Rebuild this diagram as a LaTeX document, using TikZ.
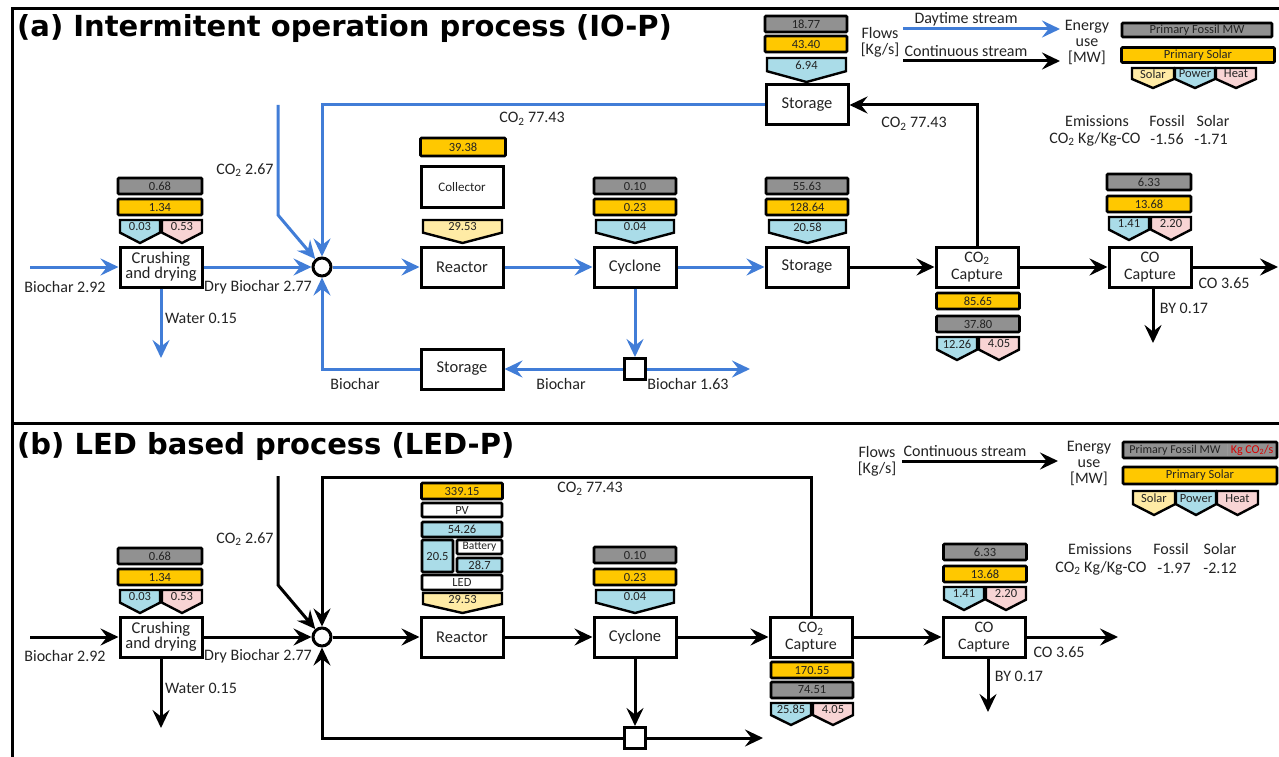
\documentclass[tikz,border=0pt]{standalone}
\usepackage{fontspec}
\setmainfont{Carlito}
\newfontfamily\titlef{DejaVu Sans}
\usetikzlibrary{arrows.meta}
\definecolor{fgray}{RGB}{145,145,145}
\definecolor{fyellow}{RGB}{255,200,0}
\definecolor{fblue}{RGB}{170,220,232}
\definecolor{fpink}{RGB}{248,212,212}
\definecolor{fsolar}{RGB}{255,235,165}
\definecolor{flowblue}{RGB}{65,125,215}
\definecolor{txt}{RGB}{35,35,35}
\newcommand{\fsz}[2]{\fontsize{#1}{#2}\selectfont}
\newcommand{\pentag}[6]{%
  \filldraw[fill=#5, line width=2.4pt, line join=miter] (#1,#3) -- (#2,#3) -- (#2,{#3+0.55*(#4-#3)}) -- ({(#1+#2)/2},#4) -- (#1,{#3+0.55*(#4-#3)}) -- cycle;
  \node[font=\fsz{12.5}{13}, text=txt, inner sep=0pt] at ({(#1+#2)/2},{#3+0.3*(#4-#3)}) {#6};}
\tikzset{
  box/.style={draw, line width=3pt, fill=white, minimum width=82pt, minimum height=40pt, inner sep=0pt, align=center, font=\fsz{16.5}{15}, text=txt},
  capbox/.style={box, font=\fsz{16}{17}},
  bar/.style={draw, line width=2.6pt, rounded corners=1pt, minimum height=16pt, inner sep=0pt, font=\fsz{12.5}{13}, text=txt},
  lbl/.style={font=\fsz{16}{16}, inner sep=0pt, text=txt},
  flow/.style={line width=3pt, -{Stealth[length=18pt,width=17pt,inset=6.5pt]}},
  bflow/.style={flow, draw=flowblue},
  kflow/.style={flow, draw=black},
  mix/.style={circle, draw, line width=3pt, fill=white, minimum size=18pt, inner sep=0pt},
  sq/.style={draw, line width=3pt, fill=white, minimum size=21pt, inner sep=0pt},
  ttl/.style={font=\titlef\bfseries\fsz{29}{32}, inner sep=0pt, anchor=west}
}
\begin{document}
\begin{tikzpicture}[x=1pt, y=-1pt]
\useasboundingbox (0,0) rectangle (1279,757);
% frame
\draw[line width=3pt] (1279,9) -- (12,9) -- (12,757);
\draw[line width=3pt] (12,423) -- (1279,423);
\node[ttl] (ta) at (17,29) {(a) Intermitent operation process (IO-P)};
\node[ttl] (tb) at (17,446) {(b) LED based process (LED-P)};

% ================= PANEL (a) =================
\node[box] (crA) at (161,267) {Crushing\\and drying};
\node[mix] (mixA) at (322,267) {};
\node[box] (reacA) at (462,267) {Reactor};
\node[box] (cycA) at (635,267) {Cyclone};
\node[box] (storMA) at (807,267) {Storage};
\node[capbox] (co2A) at (977,267) {CO\textsubscript{2}\\Capture};
\node[capbox] (coA) at (1150,267) {CO\\Capture};
\node[box] (storTA) at (807,105) {Storage};
\node[box] (storBA) at (462,369) {Storage};
\node[sq] (sqA) at (635,369) {};
\node[box, minimum height=41pt, font=\fsz{13}{13}] (collA) at (462,187) {Collector};

\coordinate (inA) at (30,267);
\coordinate (waterA) at (161,358);
\coordinate (co2inA) at (278,105);
\coordinate (outA) at (1278,267);
\coordinate (byA) at (1153,343);
\coordinate (sqoutA) at (750,369);

\draw[bflow] (inA) -- (crA);
\draw[bflow] (crA) -- (mixA);
\draw[bflow] (crA.south) -- (waterA);
\draw[bflow] (co2inA) -- ++(0,110) -- (mixA);
\draw[bflow] (storTA.west) -- (storTA.west -| mixA) -- (mixA);
\draw[bflow] (storBA.west) -- (storBA.west -| mixA) -- (mixA);
\draw[bflow] (mixA) -- (reacA);
\draw[bflow] (reacA) -- (cycA);
\draw[bflow] (cycA) -- (storMA);
\draw[bflow] (cycA) -- (sqA);
\draw[bflow] (sqA) -- (storBA);
\draw[bflow] (sqA) -- (sqoutA);
\draw[kflow] (storMA) -- (co2A);
\draw[kflow] (co2A) -- (coA);
\draw[kflow] (coA) -- (outA);
\draw[kflow] (coA.south -| byA) -- (byA);
\draw[kflow] (co2A.north) -- (co2A.north |- storTA.east) -- (storTA.east);

\node[lbl] at (65,287) {Biochar 2.92};
\node[lbl] at (258,287) {Dry Biochar 2.77};
\node[lbl] at (201,318) {Water 0.15};
\node[lbl] at (245,170) {CO\textsubscript{2} 2.67};
\node[lbl] at (532,119) {CO\textsubscript{2} 77.43};
\node[lbl] at (914,124) {CO\textsubscript{2} 77.43};
\node[lbl] at (355,384) {Biochar};
\node[lbl] at (561,384) {Biochar};
\node[lbl] at (688,384) {Biochar 1.63};
\node[lbl] at (1224,283) {CO 3.65};
\node[lbl] at (1184,308) {BY 0.17};

% energy bars (a)
\node[bar, fill=fgray, minimum width=84pt] at (160,186) {0.68};
\node[bar, fill=fyellow, minimum width=84pt] at (160,207) {1.34};
\pentag{120}{160}{220}{243}{fblue}{0.03}
\pentag{162}{202}{220}{243}{fpink}{0.53}

\node[bar, fill=fyellow, minimum width=85pt, minimum height=18pt] at (463,147) {39.38};
\pentag{423}{502}{220}{243}{fsolar}{29.53}

\node[bar, fill=fgray, minimum width=82pt] at (635,186) {0.10};
\node[bar, fill=fyellow, minimum width=82pt] at (635,207) {0.23};
\pentag{596}{674}{220}{243}{fblue}{0.04}

\node[bar, fill=fgray, minimum width=82pt] at (807,186) {55.63};
\node[bar, fill=fyellow, minimum width=82pt] at (807,207) {128.64};
\pentag{769}{846}{220}{243}{fblue}{20.58}

\node[bar, fill=fgray, minimum width=82pt] at (806,24) {18.77};
\node[bar, fill=fyellow, minimum width=82pt] at (806,44) {43.40};
\pentag{767}{846}{58}{82}{fblue}{6.94}

\node[bar, fill=fyellow, minimum width=83pt] at (978,301) {85.65};
\node[bar, fill=fgray, minimum width=83pt] at (978,324) {37.80};
\pentag{937}{977}{337}{360}{fblue}{12.26}
\pentag{979}{1019}{337}{360}{fpink}{4.05}

\node[bar, fill=fgray, minimum width=84pt] at (1149,182) {6.33};
\node[bar, fill=fyellow, minimum width=84pt] at (1149,204) {13.68};
\pentag{1109}{1149}{217}{240}{fblue}{1.41}
\pentag{1151}{1191}{217}{240}{fpink}{2.20}

% legend (a)
\node[lbl, align=center] at (880,42) {Flows\\{[Kg/s]}};
\coordinate (dayS) at (903,29);
\coordinate (dayE) at (1060,29);
\coordinate (conS) at (903,61);
\coordinate (conE) at (1060,61);
\draw[bflow] (dayS) -- (dayE);
\draw[kflow] (conS) -- (conE);
\node[lbl] at (966,19) {Daytime stream};
\node[lbl] at (966,51) {Continuous stream};
\node[lbl, align=center] at (1087,42) {Energy\\use\\{[MW]}};
\node[bar, fill=fgray, minimum width=150pt, minimum height=14pt] at (1197,30) {Primary Fossil MW};
\node[bar, fill=fyellow, minimum width=153pt, minimum height=15pt] at (1198,55) {Primary Solar};
\pentag{1132}{1174}{68}{88}{fsolar}{Solar}
\pentag{1175}{1215}{68}{88}{fblue}{Power}
\pentag{1216}{1256}{68}{88}{fpink}{Heat}
\node[lbl] at (1097,121) {Emissions};
\node[lbl] at (1167,121) {Fossil};
\node[lbl] at (1213,121) {Solar};
\node[lbl] at (1095,139) {CO\textsubscript{2} Kg/Kg-CO};
\node[lbl] at (1167,139) {-1.56};
\node[lbl] at (1211,139) {-1.71};

% ================= PANEL (b) =================
\node[box] (crB) at (161,637) {Crushing\\and drying};
\node[mix] (mixB) at (322,637) {};
\node[box] (reacB) at (462,637) {Reactor};
\node[box] (cycB) at (635,637) {Cyclone};
\node[capbox] (co2B) at (811,637) {CO\textsubscript{2}\\Capture};
\node[capbox] (coB) at (984,637) {CO\\Capture};
\node[sq] (sqB) at (635,738) {};

\coordinate (inB) at (30,637);
\coordinate (waterB) at (161,728);
\coordinate (co2inB) at (278,476);
\coordinate (topB) at (322,477);
\coordinate (botB) at (322,738);
\coordinate (sqoutB) at (763,738);
\coordinate (outB) at (1118,637);
\coordinate (byB) at (988,712);

\draw[kflow] (inB) -- (crB);
\draw[kflow] (crB) -- (mixB);
\draw[kflow] (crB.south) -- (waterB);
\draw[kflow] (co2inB) -- ++(0,109) -- (mixB);
\draw[kflow] (co2B.north) -- (co2B.north |- topB) -- (topB) -- (mixB);
\draw[kflow] (sqB) -- (botB) -- (mixB);
\draw[kflow] (sqB) -- (sqoutB);
\draw[kflow] (cycB) -- (sqB);
\draw[kflow] (mixB) -- (reacB);
\draw[kflow] (reacB) -- (cycB);
\draw[kflow] (cycB) -- (co2B);
\draw[kflow] (co2B) -- (coB);
\draw[kflow] (coB) -- (outB);
\draw[kflow] (coB.south -| byB) -- (byB);

\node[lbl] at (65,656) {Biochar 2.92};
\node[lbl] at (258,656) {Dry Biochar 2.77};
\node[lbl] at (201,688) {Water 0.15};
\node[lbl] at (245,539) {CO\textsubscript{2} 2.67};
\node[lbl] at (590,489) {CO\textsubscript{2} 77.43};
\node[lbl] at (1059,652) {CO 3.65};
\node[lbl] at (1019,676) {BY 0.17};

\node[bar, fill=fgray, minimum width=84pt] at (160,556) {0.68};
\node[bar, fill=fyellow, minimum width=84pt] at (160,577) {1.34};
\pentag{120}{160}{590}{613}{fblue}{0.03}
\pentag{162}{202}{590}{613}{fpink}{0.53}

% reactor stack (b)
\node[bar, fill=fyellow, minimum width=81pt] at (462,491) {339.15};
\node[bar, fill=white, minimum width=80pt, minimum height=14pt] at (462,510) {PV};
\node[bar, fill=fblue, minimum width=80pt, minimum height=15pt] at (462,529.5) {54.26};
\node[bar, fill=fblue, minimum width=31pt, minimum height=32pt] at (437.5,556) {20.5};
\node[bar, fill=white, minimum width=45pt, minimum height=14pt, font=\fsz{11.5}{12}] at (479.5,547) {Battery};
\node[bar, fill=fblue, minimum width=45pt, minimum height=14pt] at (479.5,565) {28.7};
\node[bar, fill=white, minimum width=80pt, minimum height=15pt] at (462,582.5) {LED};
\pentag{423}{502}{593}{613}{fsolar}{29.53}

\node[bar, fill=fgray, minimum width=82pt] at (635,555) {0.10};
\node[bar, fill=fyellow, minimum width=82pt] at (635,577) {0.23};
\pentag{596}{674}{590}{613}{fblue}{0.04}

\node[bar, fill=fyellow, minimum width=82pt] at (812,670) {170.55};
\node[bar, fill=fgray, minimum width=82pt] at (812,690) {74.51};
\pentag{771}{811}{703}{725}{fblue}{25.85}
\pentag{813}{853}{703}{725}{fpink}{4.05}

\node[bar, fill=fgray, minimum width=83pt] at (985,552) {6.33};
\node[bar, fill=fyellow, minimum width=83pt] at (985,574) {13.68};
\pentag{944}{984}{587}{610}{fblue}{1.41}
\pentag{986}{1026}{587}{610}{fpink}{2.20}

% legend (b)
\node[lbl, align=center] at (877,461) {Flows\\{[Kg/s]}};
\coordinate (conSB) at (902,461);
\coordinate (conEB) at (1058,461);
\draw[kflow] (conSB) -- (conEB);
\node[lbl] at (965,451) {Continuous stream};
\node[lbl, align=center] at (1089,463) {Energy\\use\\{[MW]}};
\node[bar, fill=fgray, minimum width=154pt, minimum height=16pt] (fosB) at (1200,450) {};
\node[font=\fsz{12}{13}, text=txt, inner sep=0pt] at (1175,450) {Primary Fossil MW};
\draw[line width=1pt, draw=black!40] (1227,444) -- (1227,456);
\node[font=\fsz{12}{13}, text=red!85!black, inner sep=0pt] at (1252,450) {Kg CO\textsubscript{2}/s};
\node[bar, fill=fyellow, minimum width=154pt, minimum height=17pt] at (1200,475.5) {Primary Solar};
\pentag{1133}{1175}{491}{515}{fsolar}{Solar}
\pentag{1176}{1216}{491}{515}{fblue}{Power}
\pentag{1217}{1258}{491}{515}{fpink}{Heat}
\node[lbl] at (1100,549) {Emissions};
\node[lbl] at (1171,549) {Fossil};
\node[lbl] at (1220,549) {Solar};
\node[lbl] at (1101,568) {CO\textsubscript{2} Kg/Kg-CO};
\node[lbl] at (1174,568) {-1.97};
\node[lbl] at (1220,568) {-2.12};
\end{tikzpicture}
\end{document}
